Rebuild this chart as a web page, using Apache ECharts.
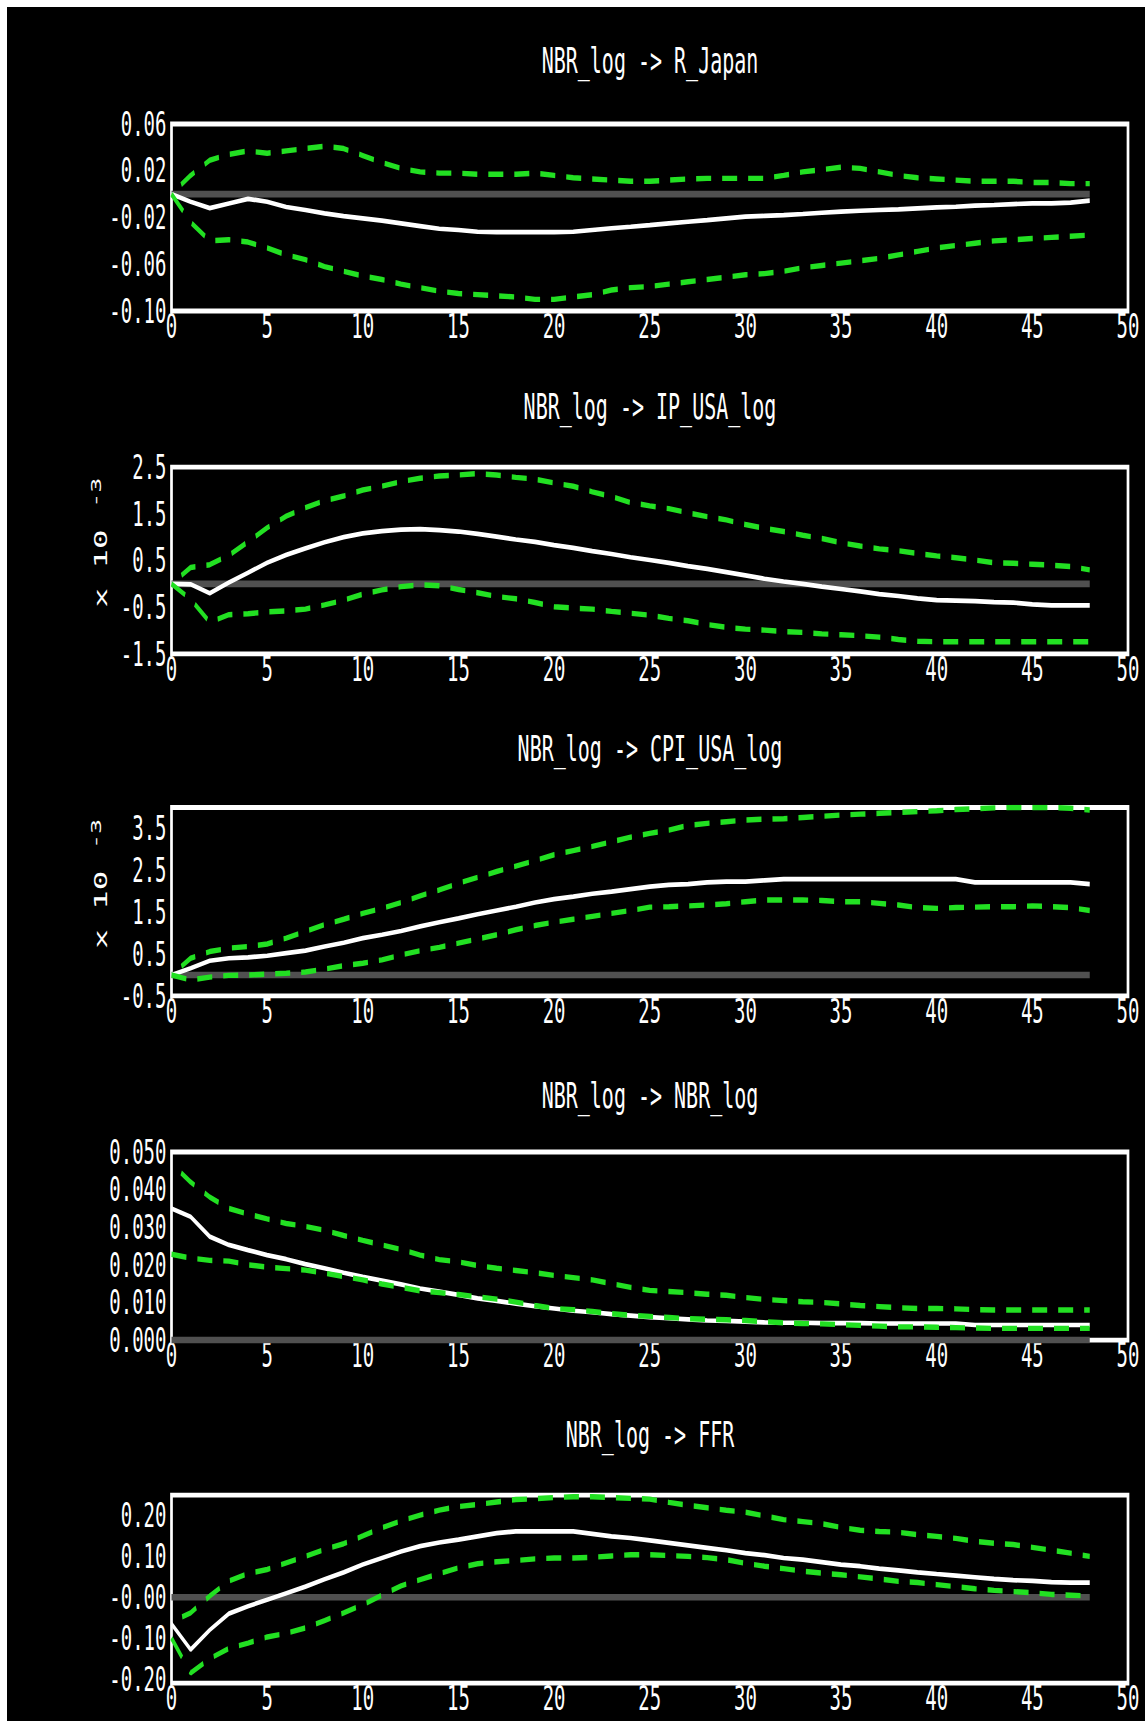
<!DOCTYPE html>
<html>
<head>
<meta charset="utf-8">
<script src="https://cdn.jsdelivr.net/npm/echarts@6/dist/echarts.min.js"></script>
<style>
  html, body { margin: 0; padding: 0; background: #ffffff; }
  #frame { position: absolute; left: 7px; top: 7px; width: 1138px; height: 1714px; background: #000000; overflow: hidden; }
  #chart { width: 1138px; height: 952.2px; transform: scaleY(1.8); transform-origin: 0 0; }
</style>
</head>
<body>
<div id="frame"><div id="chart"></div></div>
<script>
// ---------------- DATA ----------------
const periods = [0,1,2,3,4,5,6,7,8,9,10,11,12,13,14,15,16,17,18,19,20,21,22,23,24,25,26,27,28,29,30,31,32,33,34,35,36,37,38,39,40,41,42,43,44,45,46,47,48];

const panelTitles = [
  "NBR_log -> R_Japan",
  "NBR_log -> IP_USA_log",
  "NBR_log -> CPI_USA_log",
  "NBR_log -> NBR_log",
  "NBR_log -> FFR"
];

const xTicks = [0, 5, 10, 15, 20, 25, 30, 35, 40, 45, 50];

const yMin = [-0.10, -1.5, -0.5, 0.0, -0.21];
const yMax = [0.06, 2.5, 4.0, 0.05, 0.25];
const yTicks = [
  [-0.10, -0.06, -0.02, 0.02, 0.06],
  [-1.5, -0.5, 0.5, 1.5, 2.5],
  [-0.5, 0.5, 1.5, 2.5, 3.5],
  [0.00, 0.01, 0.02, 0.03, 0.04, 0.05],
  [-0.20, -0.10, 0.00, 0.10, 0.20]
];
const yTickLabels = [
  ["-0.10", "-0.06", "-0.02", "0.02", "0.06"],
  ["-1.5", "-0.5", "0.5", "1.5", "2.5"],
  ["-0.5", "0.5", "1.5", "2.5", "3.5"],
  ["0.000", "0.010", "0.020", "0.030", "0.040", "0.050"],
  ["-0.20", "-0.10", "-0.00", "0.10", "0.20"]
];
const yScaleNote = [null, ["x 10", "-3"], ["x 10", "-3"], null, null];

// R_Japan
const rJapanIrf   = [0, -0.0065, -0.012, -0.008, -0.004, -0.0065, -0.011, -0.0136, -0.0165, -0.0188, -0.0207, -0.0227, -0.025, -0.0273, -0.0296, -0.0307, -0.0322, -0.0325, -0.0325, -0.0325, -0.0325, -0.0322, -0.0307, -0.0292, -0.0279, -0.0265, -0.025, -0.0236, -0.0222, -0.0207, -0.0193, -0.0186, -0.0179, -0.017, -0.0159, -0.015, -0.0142, -0.0136, -0.0131, -0.0122, -0.0113, -0.0108, -0.0099, -0.0093, -0.0085, -0.0079, -0.0079, -0.0073, -0.0055];
const rJapanUpper = [0, 0.016, 0.029, 0.034, 0.037, 0.035, 0.037, 0.039, 0.041, 0.039, 0.033, 0.027, 0.022, 0.019, 0.018, 0.018, 0.017, 0.017, 0.017, 0.018, 0.016, 0.014, 0.013, 0.012, 0.011, 0.011, 0.012, 0.013, 0.0135, 0.0135, 0.0135, 0.0135, 0.016, 0.019, 0.021, 0.023, 0.022, 0.019, 0.016, 0.014, 0.013, 0.012, 0.011, 0.011, 0.011, 0.010, 0.010, 0.009, 0.009];
const rJapanLower = [0, -0.024, -0.040, -0.039, -0.041, -0.046, -0.052, -0.056, -0.062, -0.066, -0.070, -0.073, -0.077, -0.080, -0.083, -0.085, -0.086, -0.087, -0.088, -0.090, -0.090, -0.088, -0.086, -0.082, -0.080, -0.079, -0.077, -0.075, -0.073, -0.071, -0.069, -0.068, -0.066, -0.063, -0.061, -0.059, -0.057, -0.055, -0.052, -0.049, -0.046, -0.044, -0.042, -0.040, -0.039, -0.038, -0.037, -0.036, -0.035];

// IP_USA_log (x 10^-3)
const ipIrf   = [0, -0.01, -0.20, 0.03, 0.24, 0.45, 0.62, 0.76, 0.89, 1.00, 1.08, 1.13, 1.16, 1.17, 1.15, 1.12, 1.07, 1.01, 0.95, 0.90, 0.83, 0.77, 0.70, 0.64, 0.57, 0.51, 0.45, 0.38, 0.32, 0.25, 0.18, 0.11, 0.05, 0.00, -0.06, -0.11, -0.16, -0.22, -0.26, -0.31, -0.35, -0.36, -0.37, -0.39, -0.40, -0.44, -0.46, -0.46, -0.46];
const ipUpper = [0, 0.35, 0.41, 0.61, 0.90, 1.20, 1.45, 1.63, 1.78, 1.88, 2.01, 2.09, 2.19, 2.26, 2.31, 2.33, 2.36, 2.33, 2.28, 2.24, 2.16, 2.09, 1.97, 1.87, 1.74, 1.67, 1.61, 1.52, 1.44, 1.37, 1.27, 1.19, 1.12, 1.04, 0.97, 0.88, 0.81, 0.75, 0.71, 0.65, 0.60, 0.56, 0.51, 0.45, 0.44, 0.42, 0.40, 0.37, 0.30];
const ipLower = [0, -0.33, -0.82, -0.66, -0.64, -0.60, -0.58, -0.54, -0.45, -0.35, -0.22, -0.13, -0.06, -0.02, -0.04, -0.12, -0.19, -0.27, -0.32, -0.40, -0.49, -0.52, -0.54, -0.59, -0.63, -0.67, -0.74, -0.79, -0.87, -0.93, -0.97, -0.99, -1.02, -1.04, -1.07, -1.09, -1.11, -1.14, -1.19, -1.23, -1.24, -1.24, -1.24, -1.24, -1.24, -1.24, -1.24, -1.24, -1.24];

// CPI_USA_log (x 10^-3)
const cpiIrf   = [0, 0.16, 0.34, 0.40, 0.42, 0.46, 0.52, 0.58, 0.68, 0.77, 0.88, 0.96, 1.05, 1.16, 1.26, 1.35, 1.45, 1.54, 1.63, 1.73, 1.81, 1.87, 1.94, 1.99, 2.05, 2.11, 2.15, 2.17, 2.21, 2.23, 2.23, 2.26, 2.29, 2.29, 2.29, 2.29, 2.29, 2.29, 2.29, 2.29, 2.29, 2.29, 2.21, 2.21, 2.21, 2.21, 2.21, 2.21, 2.17];
const cpiUpper = [0, 0.40, 0.56, 0.64, 0.68, 0.74, 0.88, 1.04, 1.20, 1.33, 1.47, 1.59, 1.73, 1.89, 2.03, 2.19, 2.33, 2.47, 2.60, 2.73, 2.87, 2.97, 3.07, 3.18, 3.29, 3.38, 3.46, 3.57, 3.62, 3.66, 3.70, 3.72, 3.73, 3.76, 3.79, 3.82, 3.84, 3.86, 3.88, 3.90, 3.92, 3.95, 3.97, 3.99, 4.00, 4.00, 4.00, 3.98, 3.94];
const cpiLower = [0, -0.12, -0.05, -0.01, 0.00, 0.02, 0.04, 0.07, 0.14, 0.22, 0.28, 0.36, 0.48, 0.58, 0.66, 0.76, 0.86, 0.96, 1.08, 1.18, 1.26, 1.33, 1.40, 1.47, 1.54, 1.62, 1.63, 1.65, 1.67, 1.70, 1.75, 1.79, 1.79, 1.79, 1.78, 1.75, 1.75, 1.71, 1.67, 1.61, 1.59, 1.61, 1.62, 1.63, 1.63, 1.65, 1.63, 1.61, 1.54];

// NBR_log
const nbrIrf   = [0.035, 0.0328, 0.0275, 0.0253, 0.0239, 0.0226, 0.0215, 0.0202, 0.0191, 0.0179, 0.0168, 0.0158, 0.0148, 0.0137, 0.0129, 0.0120, 0.0111, 0.0104, 0.0097, 0.0090, 0.0084, 0.0078, 0.0074, 0.0069, 0.0065, 0.0061, 0.0058, 0.0055, 0.0052, 0.0051, 0.0049, 0.0047, 0.0046, 0.0046, 0.0045, 0.0045, 0.0045, 0.0044, 0.0044, 0.0044, 0.0044, 0.0044, 0.0040, 0.0040, 0.0040, 0.0040, 0.0040, 0.0040, 0.0040];
const nbrUpper = [0.047, 0.042, 0.038, 0.035, 0.0335, 0.0322, 0.031, 0.0302, 0.0292, 0.0278, 0.0265, 0.0253, 0.0241, 0.0226, 0.0214, 0.0208, 0.0198, 0.0191, 0.0185, 0.0179, 0.0172, 0.0166, 0.0160, 0.0150, 0.0140, 0.0132, 0.0129, 0.0126, 0.0122, 0.0119, 0.0113, 0.0108, 0.0105, 0.0102, 0.0100, 0.0096, 0.0092, 0.0089, 0.0086, 0.0084, 0.0084, 0.0083, 0.0081, 0.0080, 0.0080, 0.0080, 0.0080, 0.0080, 0.0080];
const nbrLower = [0.0228, 0.0218, 0.0212, 0.0210, 0.0200, 0.0194, 0.0190, 0.0186, 0.0178, 0.0169, 0.0160, 0.0149, 0.0140, 0.0131, 0.0126, 0.0121, 0.0115, 0.0109, 0.0101, 0.0092, 0.0084, 0.0081, 0.0076, 0.0070, 0.0066, 0.0063, 0.0060, 0.0057, 0.0055, 0.0054, 0.0052, 0.0049, 0.0046, 0.0044, 0.0043, 0.0041, 0.0039, 0.0037, 0.0035, 0.0035, 0.0034, 0.0033, 0.0032, 0.0031, 0.0031, 0.0031, 0.0031, 0.0031, 0.0031];

// FFR
const ffrIrf   = [-0.065, -0.128, -0.08, -0.04, -0.022, -0.006, 0.010, 0.026, 0.044, 0.061, 0.080, 0.096, 0.112, 0.125, 0.134, 0.141, 0.149, 0.157, 0.161, 0.161, 0.161, 0.161, 0.155, 0.149, 0.145, 0.139, 0.133, 0.127, 0.121, 0.115, 0.108, 0.103, 0.096, 0.092, 0.086, 0.080, 0.076, 0.070, 0.066, 0.061, 0.057, 0.053, 0.049, 0.045, 0.042, 0.040, 0.037, 0.036, 0.036];
const ffrUpper = [-0.06, -0.038, 0.003, 0.040, 0.058, 0.068, 0.084, 0.100, 0.117, 0.131, 0.150, 0.170, 0.187, 0.201, 0.213, 0.222, 0.227, 0.233, 0.239, 0.241, 0.244, 0.246, 0.246, 0.244, 0.242, 0.240, 0.232, 0.225, 0.219, 0.213, 0.208, 0.199, 0.190, 0.185, 0.180, 0.171, 0.164, 0.161, 0.159, 0.153, 0.149, 0.144, 0.137, 0.132, 0.129, 0.122, 0.115, 0.108, 0.100];
const ffrLower = [-0.10, -0.185, -0.150, -0.125, -0.112, -0.097, -0.088, -0.075, -0.057, -0.038, -0.018, 0.005, 0.028, 0.043, 0.058, 0.072, 0.082, 0.087, 0.090, 0.094, 0.096, 0.096, 0.098, 0.101, 0.104, 0.104, 0.102, 0.100, 0.097, 0.092, 0.083, 0.076, 0.070, 0.064, 0.059, 0.055, 0.050, 0.045, 0.039, 0.036, 0.031, 0.026, 0.021, 0.017, 0.014, 0.011, 0.007, 0.005, 0.003];

const zeroLine = periods.map(() => 0);

const irfs   = [rJapanIrf, ipIrf, cpiIrf, nbrIrf, ffrIrf];
const uppers = [rJapanUpper, ipUpper, cpiUpper, nbrUpper, ffrUpper];
const lowers = [rJapanLower, ipLower, cpiLower, nbrLower, ffrLower];

// ---------------- LAYOUT / STYLE ----------------
const FONT = "'DejaVu Sans Mono', 'Liberation Mono', monospace";
const GREEN = '#22e022';
const GRAY = '#505050';
const gridTops = [65, 255.6, 444.7, 636.1, 826.7];
const gridHeights = [103.9, 103.8, 104.7, 104.5, 104.5];
const titleTops = [20, 212, 402, 595, 783];

const pairs = arr => periods.map((t, i) => [t, arr[i]]);

const option = {
  backgroundColor: '#000000',
  animation: false,
  title: panelTitles.map((text, i) => ({
    text: text,
    left: 643,
    top: titleTops[i],
    textAlign: 'center',
    padding: 0,
    textStyle: { color: '#ffffff', fontSize: 20, fontWeight: 'normal', fontFamily: FONT }
  })),
  grid: gridTops.map((top, i) => ({
    left: 164.5, right: 17, top: top, height: gridHeights[i],
    show: true, borderColor: '#ffffff', borderWidth: 2.7, backgroundColor: 'transparent'
  })),
  xAxis: gridTops.map((_, i) => ({
    type: 'value', gridIndex: i, min: 0, max: 50, interval: 5,
    axisLine: { show: false }, axisTick: { show: false }, splitLine: { show: false },
    axisLabel: {
      color: '#ffffff', fontSize: 19, lineHeight: 17, fontFamily: FONT, margin: 0,
      customValues: xTicks,
      formatter: v => String(v)
    }
  })),
  yAxis: gridTops.map((_, i) => {
    const ax = {
      type: 'value', gridIndex: i, min: yMin[i], max: yMax[i],
      axisLine: { show: false }, axisTick: { show: false }, splitLine: { show: false },
      axisLabel: {
        color: '#ffffff', fontSize: 19, fontFamily: FONT, margin: 5,
        customValues: yTicks[i],
        showMinLabel: true, showMaxLabel: true,
        formatter: v => {
          const k = yTicks[i].findIndex(x => Math.abs(x - v) < 1e-9);
          return k >= 0 ? yTickLabels[i][k] : '';
        }
      }
    };
    if (yScaleNote[i]) {
      ax.name = '{a|' + yScaleNote[i][0] + '}{s|' + yScaleNote[i][1] + '}';
      ax.nameLocation = 'middle';
      ax.nameRotate = 90;
      ax.nameGap = 55;
      ax.nameTextStyle = {
        color: '#ffffff',
        padding: [0, 0, 0, 20],
        rich: {
          a: { color: '#ffffff', fontSize: 18, fontFamily: FONT, lineHeight: 24 },
          s: { color: '#ffffff', fontSize: 14, fontFamily: FONT, verticalAlign: 'top', padding: [0, 0, 0, 12] }
        }
      };
    }
    return ax;
  }),
  series: []
};

for (let i = 0; i < 5; i++) {
  option.series.push({
    type: 'line', xAxisIndex: i, yAxisIndex: i, data: pairs(zeroLine),
    showSymbol: false, silent: true, z: 2,
    lineStyle: { color: GRAY, width: 3.7 }
  });
  option.series.push({
    type: 'line', xAxisIndex: i, yAxisIndex: i, data: pairs(irfs[i]),
    showSymbol: false, silent: true, z: 3,
    lineStyle: { color: '#ffffff', width: 2.6 }
  });
  option.series.push({
    type: 'line', xAxisIndex: i, yAxisIndex: i, data: pairs(uppers[i]),
    showSymbol: false, silent: true, z: 4,
    lineStyle: { color: GREEN, width: 3, type: [15, 11], dashOffset: 15, cap: 'butt' }
  });
  option.series.push({
    type: 'line', xAxisIndex: i, yAxisIndex: i, data: pairs(lowers[i]),
    showSymbol: false, silent: true, z: 4,
    lineStyle: { color: GREEN, width: 3, type: [15, 11], dashOffset: 0, cap: 'butt' }
  });
}

const chart = echarts.init(document.getElementById('chart'), null, { renderer: 'svg' });
chart.setOption(option);
</script>
</body>
</html>
